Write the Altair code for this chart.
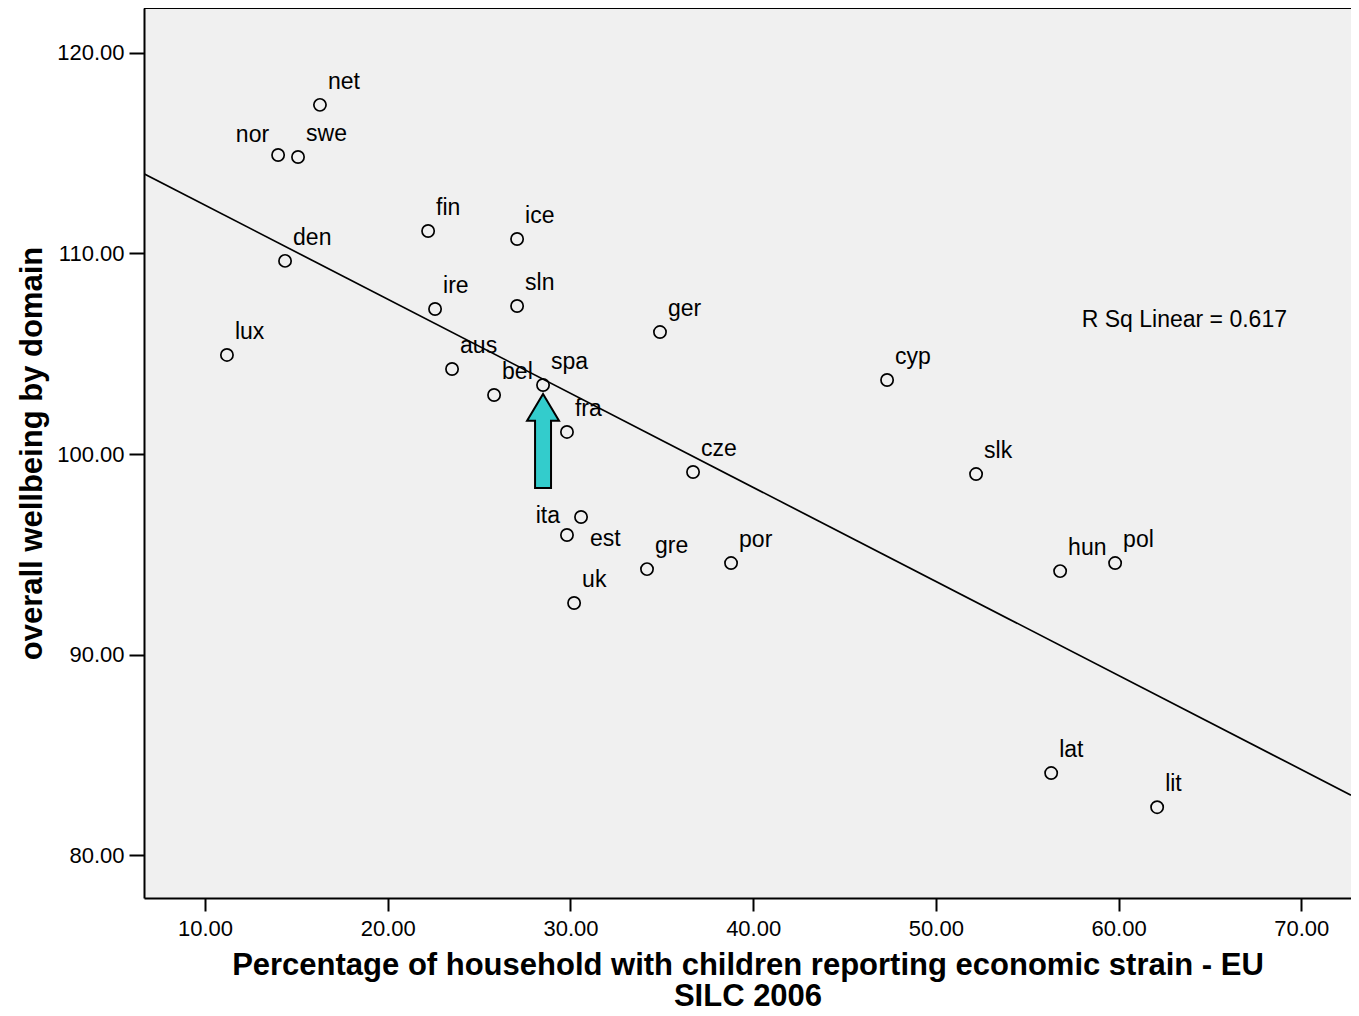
import altair as alt
import pandas as pd

countries = ["net", "nor", "swe", "fin", "ice", "den", "ire", "sln", "ger", "lux",
             "aus", "bel", "spa", "cyp", "fra", "cze", "slk", "ita", "est", "gre",
             "por", "hun", "pol", "uk", "lat", "lit"]
strain = [16.29, 14.00, 15.09, 22.21, 27.08, 14.38, 22.59, 27.08, 34.90, 11.20,
          23.52, 25.82, 28.50, 47.33, 29.81, 36.71, 52.20, 30.58, 29.81, 34.19,
          38.79, 56.80, 59.81, 30.20, 56.31, 62.11]
wellbeing = [117.41, 114.91, 114.81, 111.12, 110.72, 109.63, 107.23, 107.38, 106.08, 104.94,
             104.24, 102.94, 103.44, 103.69, 101.10, 99.10, 99.00, 96.86, 95.96, 94.26,
             94.56, 94.16, 94.56, 92.57, 84.09, 82.39]

x_ticks = [10, 20, 30, 40, 50, 60, 70]
y_ticks = [80, 90, 100, 110, 120]
x_domain = [6.66, 72.72]
y_domain = [77.86, 122.24]
rsq_text = ["R Sq Linear = 0.617"]
rsq_x = [63.6]
rsq_y = [106.7]
highlight = ["spa"]
left_labels = ["nor"]

df = pd.DataFrame({"country": countries, "strain": strain, "wellbeing": wellbeing})
FONT = "Liberation Sans"
W, H = 1207, 890

xs = alt.Scale(domain=x_domain, nice=False, zero=False)
ys = alt.Scale(domain=y_domain, nice=False, zero=False)

X = alt.X("strain:Q", scale=xs,
          title=["Percentage of household with children reporting economic strain - EU", "SILC 2006"],
          axis=alt.Axis(values=x_ticks, format=".2f", grid=False,
                        domain=True, domainColor="black", domainWidth=2,
                        tickSize=13, tickWidth=2, tickColor="black",
                        labelFontSize=22, labelFont=FONT, labelColor="black", labelPadding=7,
                        titleFont=FONT, titleFontSize=31, titleFontWeight="bold",
                        titleColor="black", titlePadding=11, titleLineHeight=31))
Y = alt.Y("wellbeing:Q", scale=ys, title="overall wellbeing by domain",
          axis=alt.Axis(values=y_ticks, format=".2f", grid=False,
                        domain=True, domainColor="black", domainWidth=2,
                        tickSize=15, tickWidth=2, tickColor="black",
                        labelFontSize=22, labelFont=FONT, labelColor="black", labelPadding=5,
                        titleFont=FONT, titleFontSize=31, titleFontWeight="bold",
                        titleColor="black", titlePadding=8))

base = alt.Chart(df)
XE = alt.X("strain:Q", scale=xs)
YE = alt.Y("wellbeing:Q", scale=ys)

points = base.mark_point(shape="circle", size=150, filled=False, stroke="black",
                         strokeWidth=1.7, opacity=1).encode(x=X, y=Y)

reg = base.transform_regression("strain", "wellbeing", extent=x_domain).mark_line(
    color="black", strokeWidth=1.7, clip=True).encode(x=XE, y=YE)

special = left_labels + ["ita", "est"]
txt = dict(baseline="middle", fontSize=23, font=FONT, color="black")

lab_main = base.transform_filter(
    ~alt.FieldOneOfPredicate(field="country", oneOf=special)
).mark_text(align="left", dx=8, dy=-23, **txt).encode(x=XE, y=YE, text="country:N")
lab_nor = base.transform_filter(
    alt.FieldOneOfPredicate(field="country", oneOf=left_labels)
).mark_text(align="right", dx=-9, dy=-20, **txt).encode(x=XE, y=YE, text="country:N")
lab_ita = base.transform_filter(
    alt.FieldOneOfPredicate(field="country", oneOf=["ita"])
).mark_text(align="right", dx=-21, dy=-1, **txt).encode(x=XE, y=YE, text="country:N")
lab_est = base.transform_filter(
    alt.FieldOneOfPredicate(field="country", oneOf=["est"])
).mark_text(align="left", dx=23, dy=4, **txt).encode(x=XE, y=YE, text="country:N")

arrow_path = "M 0 -1 L 0.34 -0.43 L 0.17 -0.43 L 0.17 1 L -0.17 1 L -0.17 -0.43 L -0.34 -0.43 Z"
arrow = base.transform_filter(
    alt.FieldOneOfPredicate(field="country", oneOf=highlight)
).mark_point(shape=arrow_path, size=8836, filled=True, fill="#33CCCC", stroke="black",
             strokeWidth=2, opacity=1, yOffset=56).encode(x=XE, y=YE)

rsq = alt.Chart(pd.DataFrame({"t": rsq_text, "x": rsq_x, "y": rsq_y})).mark_text(
    align="center", **txt).encode(
    x=alt.X("x:Q", scale=xs), y=alt.Y("y:Q", scale=ys), text="t:N")

top_border = alt.Chart(pd.DataFrame({"a": [0]})).mark_rule(
    color="black", strokeWidth=2).encode(
    x=alt.value(0), x2=alt.value(W), y=alt.value(0))

chart = alt.layer(reg, points, arrow, lab_main, lab_nor, lab_ita, lab_est, rsq,
                  top_border).properties(
    width=W, height=H,
    autosize=alt.AutoSizeParams(type="none"),
    padding={"left": 136, "top": 0, "right": 0, "bottom": 110},
    background="white",
).configure_view(fill="#F0F0F0", strokeWidth=0)

chart.save("out.html", embed_options={"renderer": "svg", "actions": False})
